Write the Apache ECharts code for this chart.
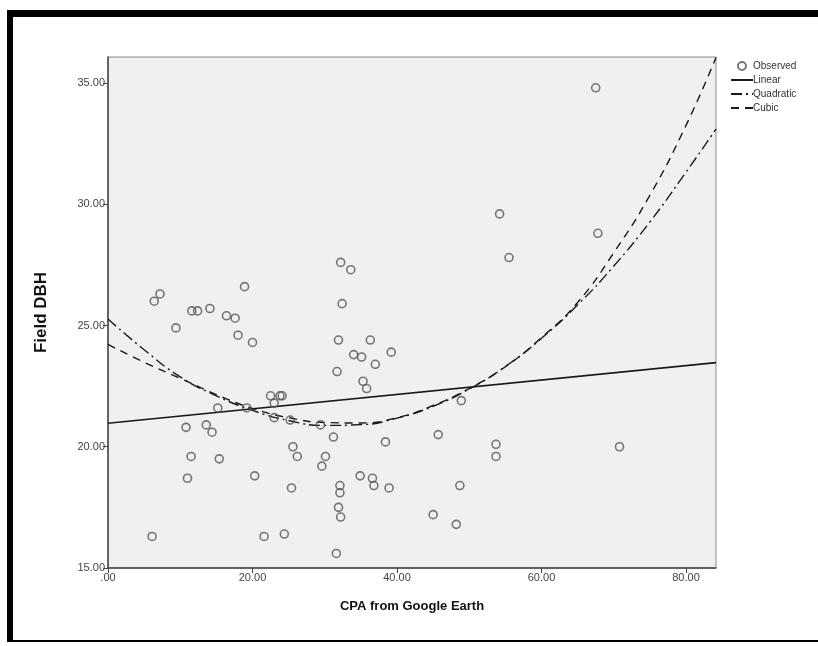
<!DOCTYPE html>
<html>
<head>
<meta charset="utf-8">
<script src="https://cdn.jsdelivr.net/npm/echarts@6/dist/echarts.min.js"></script>
<style>
html,body{margin:0;padding:0;background:#fff;}
#chart{width:818px;height:646px;}
</style>
</head>
<body>
<div id="chart"></div>
<script>
// Observed points (CPA from Google Earth, Field DBH)
const cpa = [67.5,67.8,54.2,55.5,70.8,32.2,33.6,18.9,7.2,6.4,32.4,11.6,12.4,14.1,16.4,17.6,9.4,18.0,20.0,31.9,
             36.3,34.0,35.1,37.0,31.7,35.3,35.8,22.5,23.8,24.1,23.0,15.2,19.2,23.0,25.2,29.4,10.8,13.6,14.4,31.2,
             25.6,26.2,30.1,29.6,11.5,15.4,11.0,20.3,25.4,34.9,36.6,36.8,32.1,32.1,31.9,32.2,6.1,21.6,24.4,31.6,
             39.2,38.4,45.7,48.9,53.7,53.7,38.9,48.7,45.0,48.2];
const dbh = [34.8,28.8,29.6,27.8,20.0,27.6,27.3,26.6,26.3,26.0,25.9,25.6,25.6,25.7,25.4,25.3,24.9,24.6,24.3,24.4,
             24.4,23.8,23.7,23.4,23.1,22.7,22.4,22.1,22.1,22.1,21.8,21.6,21.6,21.2,21.1,20.9,20.8,20.9,20.6,20.4,
             20.0,19.6,19.6,19.2,19.6,19.5,18.7,18.8,18.3,18.8,18.7,18.4,18.4,18.1,17.5,17.1,16.3,16.3,16.4,15.6,
             23.9,20.2,20.5,21.9,20.1,19.6,18.3,18.4,17.2,16.8];

// Fitted lines
const linearX = [0, 84.15];
const linearY = [20.97, 23.47];
const curveX = [0,5,10,15,20,25,30,35,40,45,50,55,60,65,70,75,80,84.15];
const quadY  = [25.27,24.0,22.88,22.1,21.5,21.08,20.88,20.91,21.18,21.67,22.38,23.31,24.47,25.85,27.45,29.27,31.32,33.1];
const cubicY = [24.22,23.48,22.82,22.15,21.58,21.2,21.0,20.98,21.2,21.7,22.4,23.3,24.5,25.95,28.0,30.37,33.25,36.05];

// Tick labels
const xTicks = [0,20,40,60,80];
const yTicks = [15,20,25,30,35];

const zip = (xs, ys) => xs.map((x, i) => [x, ys[i]]);
const fmt = v => (v === 0 ? '.00' : v.toFixed(2));

const chart = echarts.init(document.getElementById('chart'), null, {renderer: 'canvas'});
const lineCol = '#1a1a1a';
const noSym = {color: 'rgba(0,0,0,0)', borderWidth: 0, borderColor: 'rgba(0,0,0,0)'};
chart.setOption({
  backgroundColor: '#fff',
  animation: false,
  textStyle: {fontFamily: 'Liberation Sans, Arial, sans-serif'},
  graphic: [
    {type: 'rect', shape: {x: 7, y: 10, width: 811, height: 7}, style: {fill: '#000'}},
    {type: 'rect', shape: {x: 7, y: 10, width: 6, height: 632}, style: {fill: '#000'}},
    {type: 'rect', shape: {x: 7, y: 640, width: 811, height: 2}, style: {fill: '#000'}}
  ],
  legend: {
    orient: 'vertical',
    left: 725,
    top: 56,
    itemWidth: 22,
    itemHeight: 8,
    itemGap: 4,
    textStyle: {fontSize: 10, color: '#333', padding: [0, 0, 0, -5]},
    data: [
      {name: 'Observed', icon: 'circle'},
      {name: 'Linear', itemStyle: noSym},
      {name: 'Quadratic', itemStyle: noSym},
      {name: 'Cubic', itemStyle: noSym}
    ]
  },
  grid: {
    left: 108, top: 57, right: 102, bottom: 78,
    show: true, backgroundColor: '#f0f0f0', borderColor: '#8a8a8a', borderWidth: 1
  },
  xAxis: {
    type: 'value', min: 0, max: 84.15,
    name: 'CPA from Google Earth', nameLocation: 'middle', nameGap: 32,
    nameTextStyle: {fontSize: 13, fontWeight: 'bold', color: '#111'},
    axisLine: {show: true, lineStyle: {color: '#444', width: 1.5}},
    axisTick: {show: true, length: 5, customValues: xTicks, lineStyle: {color: '#444'}},
    axisLabel: {customValues: xTicks, formatter: fmt, fontSize: 11, color: '#444', margin: 4},
    splitLine: {show: false}
  },
  yAxis: {
    type: 'value', min: 15, max: 36.07,
    name: 'Field DBH', nameLocation: 'middle', nameGap: 58, nameRotate: 90,
    nameTextStyle: {fontSize: 17, fontWeight: 'bold', color: '#111'},
    axisLine: {show: true, lineStyle: {color: '#444', width: 1.5}},
    axisTick: {show: true, length: 5, customValues: yTicks, lineStyle: {color: '#444'}},
    axisLabel: {customValues: yTicks, formatter: fmt, fontSize: 11, color: '#444', margin: 3},
    splitLine: {show: false}
  },
  series: [
    {
      name: 'Observed', type: 'scatter', data: zip(cpa, dbh),
      symbol: 'circle', symbolSize: 8,
      itemStyle: {color: 'rgba(255,255,255,0)', borderColor: '#555', borderWidth: 1.6},
      z: 5
    },
    {
      name: 'Linear', type: 'line', data: zip(linearX, linearY),
      symbol: 'none', lineStyle: {color: lineCol, width: 1.6, type: 'solid'},
      itemStyle: {color: lineCol}
    },
    {
      name: 'Quadratic', type: 'line', data: zip(curveX, quadY), smooth: true,
      symbol: 'none', lineStyle: {color: lineCol, width: 1.4, type: [11, 4, 2, 4]},
      itemStyle: {color: lineCol}
    },
    {
      name: 'Cubic', type: 'line', data: zip(curveX, cubicY), smooth: true,
      symbol: 'none', lineStyle: {color: lineCol, width: 1.4, type: [8, 6]},
      itemStyle: {color: lineCol}
    }
  ]
});
</script>
</body>
</html>
